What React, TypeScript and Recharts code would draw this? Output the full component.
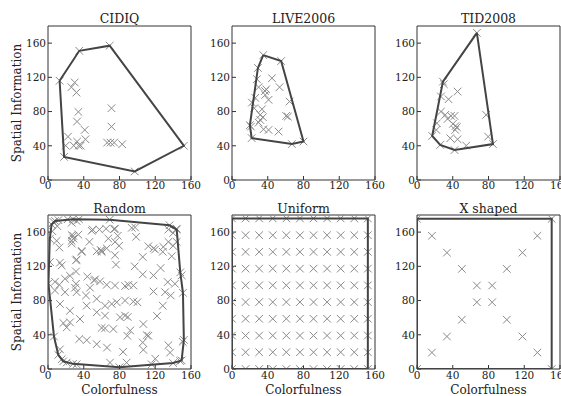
import { ScatterChart, Scatter, XAxis, YAxis } from 'recharts'

type Pt = { x: number; y: number }

const xTicks = [0, 40, 80, 120, 160]
const yTicks = [0, 40, 80, 120, 160]

const cidiqHull: Pt[] = [
  { x: 13, y: 116 }, { x: 35, y: 151 }, { x: 69, y: 157 }, { x: 152, y: 40 },
  { x: 97, y: 10 }, { x: 18, y: 27 }, { x: 13, y: 116 },
]
const cidiqInner: Pt[] = [
  { x: 22.4, y: 50.7 }, { x: 19.8, y: 40.2 }, { x: 26.2, y: 108.5 }, { x: 29.9, y: 114 },
  { x: 31.8, y: 102.2 }, { x: 34, y: 79.6 }, { x: 32.5, y: 68.3 }, { x: 28.8, y: 40.2 },
  { x: 32.5, y: 44.9 }, { x: 34.4, y: 40.2 }, { x: 36.6, y: 40.2 }, { x: 41.1, y: 58.5 },
  { x: 41.9, y: 47.6 }, { x: 71, y: 83.9 }, { x: 71, y: 62.4 }, { x: 66.2, y: 43.7 },
  { x: 69.9, y: 43.7 }, { x: 74, y: 43.7 }, { x: 83, y: 41.8 },
]

const liveHull: Pt[] = [
  { x: 35, y: 146 }, { x: 55, y: 139 }, { x: 80, y: 45 }, { x: 67, y: 42 },
  { x: 22, y: 49 }, { x: 20, y: 64 }, { x: 29, y: 131 }, { x: 35, y: 146 },
]
const liveInner: Pt[] = [
  { x: 27.9, y: 117.9 }, { x: 29.8, y: 108.5 }, { x: 38.3, y: 106 }, { x: 37.2, y: 99.5 },
  { x: 40.9, y: 93.7 }, { x: 44.7, y: 119 }, { x: 53.2, y: 108.5 }, { x: 64.4, y: 91.7 },
  { x: 60.6, y: 74.9 }, { x: 62.5, y: 74.1 }, { x: 22.3, y: 90.5 }, { x: 24.9, y: 83.9 },
  { x: 33.5, y: 82.7 }, { x: 31.6, y: 76.1 }, { x: 34.6, y: 73.4 }, { x: 31.6, y: 70.2 },
  { x: 29.8, y: 67.1 }, { x: 35.3, y: 59.3 }, { x: 40.9, y: 58.5 }, { x: 52.1, y: 56.6 },
  { x: 21.2, y: 62.4 }, { x: 26, y: 96 }, { x: 37, y: 104 },
]

const tidHull: Pt[] = [
  { x: 67, y: 172 }, { x: 85, y: 42 }, { x: 42, y: 35 }, { x: 26, y: 41 },
  { x: 17, y: 51.5 }, { x: 29, y: 115 }, { x: 67, y: 172 },
]
const tidInner: Pt[] = [
  { x: 26.8, y: 97.6 }, { x: 35.3, y: 94.4 }, { x: 45.4, y: 103.4 }, { x: 26.8, y: 80 },
  { x: 31.6, y: 76.1 }, { x: 34.2, y: 71.4 }, { x: 42, y: 74.9 }, { x: 40.2, y: 65.6 },
  { x: 44.6, y: 61.7 }, { x: 42.8, y: 58.5 }, { x: 37.2, y: 48.8 }, { x: 45.4, y: 47.6 },
  { x: 55.1, y: 40.2 }, { x: 77.4, y: 76.1 }, { x: 79.6, y: 50.7 }, { x: 22.3, y: 66.3 },
  { x: 21.6, y: 58.5 }, { x: 38, y: 75 }, { x: 43, y: 63 }, { x: 30, y: 112 },
]

const randomHull: Pt[] = [
  { x: 0.5, y: 100 }, { x: 2, y: 152 }, { x: 4, y: 169 }, { x: 8, y: 173 },
  { x: 28, y: 175 }, { x: 69, y: 174.5 }, { x: 136, y: 168 }, { x: 144, y: 163 },
  { x: 148, y: 113 }, { x: 151, y: 89 }, { x: 152, y: 34 }, { x: 149.5, y: 10 },
  { x: 140, y: 7 }, { x: 80, y: 2 }, { x: 28, y: 6 }, { x: 17, y: 9 },
  { x: 11.5, y: 16.5 }, { x: 6.7, y: 38 }, { x: 0.5, y: 100 },
]
const randomInner: Pt[] = [
  { x: 6, y: 172 }, { x: 11.6, y: 174 }, { x: 22, y: 175 }, { x: 26.5, y: 171 },
  { x: 32, y: 173 }, { x: 34.7, y: 175 }, { x: 10.4, y: 167 }, { x: 4.9, y: 161 },
  { x: 50, y: 163 }, { x: 57.5, y: 163 }, { x: 65, y: 164 }, { x: 75, y: 164 },
  { x: 93.7, y: 165 }, { x: 97.4, y: 165.5 }, { x: 134.7, y: 163 }, { x: 144, y: 164 },
  { x: 26.5, y: 156.5 }, { x: 28.4, y: 152.5 }, { x: 34, y: 157 }, { x: 67.5, y: 152.5 },
  { x: 78, y: 155.7 }, { x: 98.5, y: 154.5 }, { x: 140, y: 159 }, { x: 12.7, y: 142 },
  { x: 26.5, y: 146.7 }, { x: 46.3, y: 148.6 }, { x: 59, y: 139 }, { x: 65.7, y: 141 },
  { x: 75, y: 148.6 }, { x: 79.5, y: 144 }, { x: 112.3, y: 143.5 }, { x: 118, y: 141 },
  { x: 129, y: 142.7 }, { x: 134.7, y: 148.6 }, { x: 140, y: 144 }, { x: 144, y: 148.6 },
  { x: 31.3, y: 127 }, { x: 37.7, y: 137 }, { x: 54.5, y: 137.6 }, { x: 60, y: 137 },
  { x: 75, y: 133 }, { x: 106, y: 131 }, { x: 119.8, y: 139.6 }, { x: 128.4, y: 137 },
  { x: 138.4, y: 131.8 }, { x: 2.2, y: 125 }, { x: 15.3, y: 121 }, { x: 24.6, y: 109 },
  { x: 31.3, y: 114 }, { x: 44, y: 108 }, { x: 76, y: 122 }, { x: 106, y: 110.6 },
  { x: 118, y: 109.4 }, { x: 149.6, y: 109.4 }, { x: 7.8, y: 102 }, { x: 12.7, y: 98.4 },
  { x: 19, y: 105.5 }, { x: 31.3, y: 99.6 }, { x: 51.5, y: 103.5 }, { x: 58.2, y: 102.4 },
  { x: 65.7, y: 98.4 }, { x: 75, y: 97.6 }, { x: 86.2, y: 96.9 }, { x: 90, y: 98.4 },
  { x: 95.5, y: 97.6 }, { x: 118, y: 90.6 }, { x: 134, y: 101.6 }, { x: 142, y: 99.6 },
  { x: 7.8, y: 91.8 }, { x: 19, y: 89.8 }, { x: 32, y: 89.8 }, { x: 42.5, y: 85.9 },
  { x: 54.5, y: 82 }, { x: 76.9, y: 78 }, { x: 86.2, y: 80 }, { x: 95.5, y: 78.8 },
  { x: 131, y: 89.8 }, { x: 137.3, y: 85.9 }, { x: 128.4, y: 74 }, { x: 13.4, y: 76 },
  { x: 24.6, y: 68 }, { x: 43.3, y: 74 }, { x: 63.8, y: 74 }, { x: 71.3, y: 76 },
  { x: 17.2, y: 53.7 }, { x: 24.6, y: 54.5 }, { x: 35.8, y: 58.4 }, { x: 54.5, y: 66.3 },
  { x: 63.8, y: 62.4 }, { x: 80.6, y: 60.4 }, { x: 86.2, y: 62.4 }, { x: 89.2, y: 60.8 },
  { x: 106.7, y: 52.5 }, { x: 20.9, y: 48.6 }, { x: 63.8, y: 47.5 }, { x: 73.1, y: 46.7 },
  { x: 88.8, y: 38.8 }, { x: 110.4, y: 39.6 }, { x: 112.3, y: 38.8 }, { x: 150.7, y: 31.8 },
  { x: 13.4, y: 23 }, { x: 43.3, y: 33.7 }, { x: 54.5, y: 29 }, { x: 106, y: 31 },
  { x: 106.7, y: 22.4 }, { x: 134.7, y: 27.8 }, { x: 136.6, y: 19.2 }, { x: 15.3, y: 11.4 },
  { x: 20.9, y: 7.5 }, { x: 32, y: 5.5 }, { x: 69.4, y: 7.5 }, { x: 88, y: 7.5 },
  { x: 116, y: 5.5 }, { x: 147.8, y: 9.4 }, { x: 28.3, y: 155.6 }, { x: 26.5, y: 149.8 },
  { x: 37.7, y: 138 }, { x: 48.9, y: 161.5 }, { x: 60, y: 138 }, { x: 73.8, y: 163.5 },
  { x: 9.7, y: 149.8 }, { x: 13.4, y: 124.3 }, { x: 32, y: 128 }, { x: 47, y: 95 },
  { x: 52.6, y: 104.7 }, { x: 30.2, y: 95 }, { x: 97, y: 120 }, { x: 122, y: 62 },
  { x: 100, y: 78 }, { x: 126, y: 118 }, { x: 60, y: 48 }, { x: 35, y: 35 },
  { x: 84, y: 20 }, { x: 120, y: 12 }, { x: 66, y: 25 }, { x: 92, y: 45 },
]

const uniformCols = [0, 15.2, 30.4, 45.6, 60.8, 76, 91.2, 106.4, 121.6, 136.8, 152]
const uniformRows = [0, 19.6, 39.1, 58.7, 78.2, 97.8, 117.3, 136.9, 156.4, 176]
const uniformHull: Pt[] = [
  { x: 0, y: 0 }, { x: 0, y: 176 }, { x: 152, y: 176 }, { x: 152, y: 0 }, { x: 0, y: 0 },
]

const xShapeHull: Pt[] = [
  { x: 0, y: 0 }, { x: 0, y: 175.5 }, { x: 150.7, y: 175.5 }, { x: 150.7, y: 0 }, { x: 0, y: 0 },
]
const xShapeInner: Pt[] = [
  { x: 16.7, y: 155.7 }, { x: 33.5, y: 136 }, { x: 50.2, y: 117 }, { x: 67, y: 97.6 },
  { x: 84.1, y: 97.6 }, { x: 100.5, y: 117 }, { x: 118, y: 136 }, { x: 134.7, y: 155.7 },
  { x: 16.7, y: 19.2 }, { x: 33.5, y: 38 }, { x: 50.2, y: 57.6 }, { x: 67, y: 78 },
  { x: 84.1, y: 78 }, { x: 100.5, y: 57.6 }, { x: 118, y: 38 }, { x: 134.7, y: 19.2 },
]

const uniformPoints: Pt[] = uniformCols.flatMap((x) => uniformRows.map((y) => ({ x, y })))

const FONT = "'DejaVu Serif', serif"
const PLOT_W = 143
const PLOT_H = 154
const AXIS_W = 34
const AXIS_H = 20
const PAD_R = 14

const XMark = (props: any) => {
  const { cx, cy } = props
  if (cx == null || cy == null) return <g />
  const r = 3.8
  return (
    <path
      d={`M${cx - r},${cy - r}L${cx + r},${cy + r}M${cx - r},${cy + r}L${cx + r},${cy - r}`}
      stroke="#8a8a8a"
      strokeWidth={1}
      fill="none"
    />
  )
}

const NoMark = () => <g />

interface PanelProps {
  points: Pt[]
  hull: Pt[]
  left: number
  top: number
  bottomRow: boolean
}

function Panel({ points, hull, left, top, bottomRow }: PanelProps) {
  const tickStyle = { fontSize: 10.5, fill: '#222', fontFamily: FONT }
  return (
    <div style={{ position: 'absolute', left: left - AXIS_W, top: top - 2 }}>
      <ScatterChart
        width={AXIS_W + PLOT_W + PAD_R}
        height={2 + PLOT_H + AXIS_H}
        margin={{ top: 1, right: PAD_R - 1, bottom: 0, left: 0 }}
      >
        <XAxis dataKey="x" type="number" domain={[0, 160]} ticks={xTicks} interval={0}
          allowDataOverflow height={AXIS_H} tickSize={-4} tickMargin={bottomRow ? 7 : 6}
          stroke="#333" tick={tickStyle} />
        <XAxis xAxisId="top" dataKey="x" orientation="top" type="number" domain={[0, 160]} ticks={xTicks}
          interval={0} allowDataOverflow height={1} tickSize={-4} tick={false} stroke="#333" />
        <YAxis dataKey="y" type="number" domain={[0, 180]} ticks={yTicks} interval={0}
          allowDataOverflow width={AXIS_W} tickSize={-4} tickMargin={6}
          stroke="#333" tick={tickStyle} />
        <YAxis yAxisId="right" dataKey="y" orientation="right" type="number" domain={[0, 180]} ticks={yTicks}
          interval={0} allowDataOverflow width={1} tickSize={-4} tick={false} stroke="#333" />
        <Scatter data={points} shape={XMark} isAnimationActive={false} />
        <Scatter data={hull} xAxisId="top" yAxisId="right" shape={NoMark}
          line={{ stroke: '#444', strokeWidth: 2 }} lineType="joint" isAnimationActive={false} />
      </ScatterChart>
    </div>
  )
}

const cols = [48, 232, 417]
const rows = [26, 215]

const panels = [
  { title: 'CIDIQ', points: [...cidiqHull.slice(0, -1), ...cidiqInner], hull: cidiqHull },
  { title: 'LIVE2006', points: [...liveHull.slice(0, -1), ...liveInner], hull: liveHull },
  { title: 'TID2008', points: [...tidHull.slice(0, -1), ...tidInner], hull: tidHull },
  { title: 'Random', points: [...randomHull.slice(0, -1), ...randomInner], hull: randomHull },
  { title: 'Uniform', points: uniformPoints, hull: uniformHull },
  { title: 'X shaped', points: [...xShapeHull.slice(0, -1), ...xShapeInner], hull: xShapeHull },
]

export default function App() {
  return (
    <div style={{ position: 'absolute', left: 0, top: 0, width: 561, height: 396, background: '#fff', fontFamily: FONT, overflow: 'hidden' }}>
      {panels.map((p, i) => (
        <Panel key={p.title} points={p.points} hull={p.hull}
          left={cols[i % 3]} top={rows[Math.floor(i / 3)]} bottomRow={i >= 3} />
      ))}
      <svg width={561} height={396} style={{ position: 'absolute', left: 0, top: 0, pointerEvents: 'none' }}>
        {panels.map((p, i) => (
          <text key={p.title} x={cols[i % 3] + PLOT_W / 2} y={rows[Math.floor(i / 3)] - (i < 3 ? 3.5 : 2)}
            textAnchor="middle" fontSize={12.5} fill="#222" fontFamily={FONT}>
            {p.title}
          </text>
        ))}
        {rows.map((r) => (
          <text key={r} x={21} y={r + PLOT_H / 2} transform={`rotate(-90, 21, ${r + PLOT_H / 2})`}
            textAnchor="middle" fontSize={12} fill="#222" fontFamily={FONT}>
            Spatial Information
          </text>
        ))}
        {cols.map((c) => (
          <text key={c} x={c + PLOT_W / 2} y={394} textAnchor="middle" fontSize={12} fill="#222" fontFamily={FONT}>
            Colorfulness
          </text>
        ))}
      </svg>
    </div>
  )
}
